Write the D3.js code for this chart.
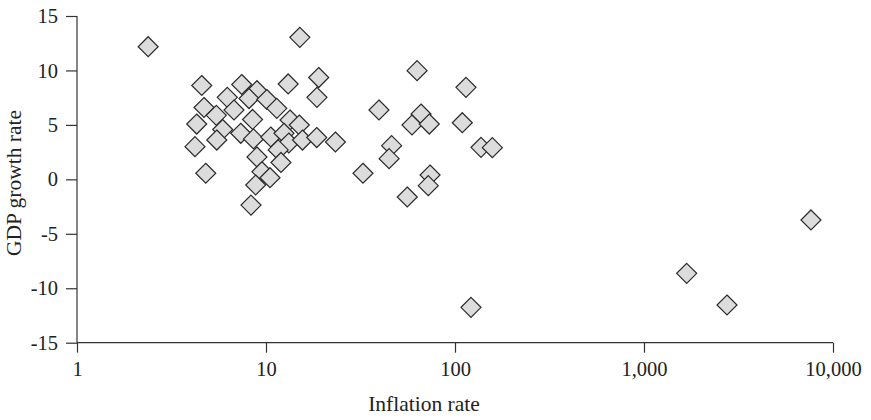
<!DOCTYPE html>
<html>
<head>
<meta charset="utf-8">
<script src="https://cdn.jsdelivr.net/npm/d3@7"></script>
<style>
  html, body { margin: 0; padding: 0; background: #fff; }
  svg { display: block; }
  text { font-family: "Liberation Serif", "DejaVu Serif", serif; fill: #222; }
</style>
</head>
<body>
<div id="chart"></div>
<script>
// Inflation rate (%, log scale) and GDP growth rate (%) per country
const inflation = [2.38, 15.1, 4.57, 7.44, 8.96, 13.1, 19.0, 18.6, 6.24, 8.13,
  10.1, 4.70, 6.77, 11.4, 5.46, 4.30, 8.49, 13.4, 15.0, 5.90,
  5.49, 7.35, 8.59, 10.6, 12.45, 13.2, 15.6, 18.55, 23.3, 4.21,
  11.6, 8.96, 12.0, 4.80, 9.52, 10.5, 8.82, 8.33, 63.0, 114.3,
  39.6, 66.1, 59.2, 73.1, 109.3, 46.2, 44.8, 137.3, 157.6, 32.6,
  73.8, 72.2, 55.9, 121.5, 7646, 1682, 2749];
const gdpGrowth = [12.18, 13.04, 8.62, 8.71, 8.14, 8.76, 9.35, 7.53, 7.53, 7.42,
  7.33, 6.60, 6.37, 6.52, 5.88, 5.08, 5.50, 5.45, 4.99, 4.58,
  3.61, 4.23, 3.71, 3.89, 4.23, 3.34, 3.61, 3.84, 3.43, 3.00,
  2.70, 2.05, 1.55, 0.56, 0.70, 0.15, -0.52, -2.36, 9.98, 8.45,
  6.37, 6.00, 4.99, 5.08, 5.20, 3.09, 1.90, 2.94, 2.91, 0.56,
  0.40, -0.58, -1.62, -11.75, -3.73, -8.63, -11.54];
const xTicks = [1, 10, 100, 1000, 10000];
const yTicks = [-15, -10, -5, 0, 5, 10, 15];
const xTitle = "Inflation rate";
const yTitle = "GDP growth rate";

const W = 871, H = 420;
const svg = d3.select("#chart").append("svg").attr("width", W).attr("height", H);

const x = d3.scaleLog().domain([1, 10000]).range([77, 833]);
const y = d3.scaleLinear().domain([-15, 15]).range([342.7, 16]);

const axisColor = "#333";
const fmt = d3.format(",");

// X axis
const gx = svg.append("g").attr("transform", `translate(0,${y(-15)})`)
  .call(d3.axisBottom(x).tickValues(xTicks).tickFormat(d => fmt(d)).tickSize(10).tickPadding(9));
gx.select(".domain").attr("d", `M${x(1)},0H${x(10000)}`);
// Y axis
const gy = svg.append("g").attr("transform", `translate(${x(1)},0)`)
  .call(d3.axisLeft(y).tickValues(yTicks).tickFormat(d => String(d)).tickSize(11).tickPadding(8));
gy.select(".domain").attr("d", `M0,${y(15)}V${y(-15)}`);

[gx, gy].forEach(g => {
  g.selectAll(".domain").attr("stroke", axisColor).attr("stroke-width", 1.2);
  g.selectAll(".tick line").attr("stroke", axisColor).attr("stroke-width", 1.2);
  g.selectAll(".tick text").attr("font-family", "Liberation Serif, serif")
    .attr("font-size", 20.5).attr("fill", "#222");
});

// points
const data = inflation.map((v, i) => ({ x: v, y: gdpGrowth[i] }));
const r = 10;
svg.append("g").selectAll("path").data(data).join("path")
  .attr("d", d => {
    const cx = x(d.x), cy = y(d.y);
    return `M${cx},${cy - r}L${cx + r},${cy}L${cx},${cy + r}L${cx - r},${cy}Z`;
  })
  .attr("fill", "#dcdcdc")
  .attr("stroke", "#2a2a2a")
  .attr("stroke-width", 1.2);

// titles
svg.append("text").attr("x", 424).attr("y", 411)
  .attr("text-anchor", "middle").attr("font-size", 21.5).text(xTitle);
svg.append("text")
  .attr("transform", `translate(21,183) rotate(-90)`)
  .attr("text-anchor", "middle").attr("font-size", 21.5).text(yTitle);
</script>
</body>
</html>
